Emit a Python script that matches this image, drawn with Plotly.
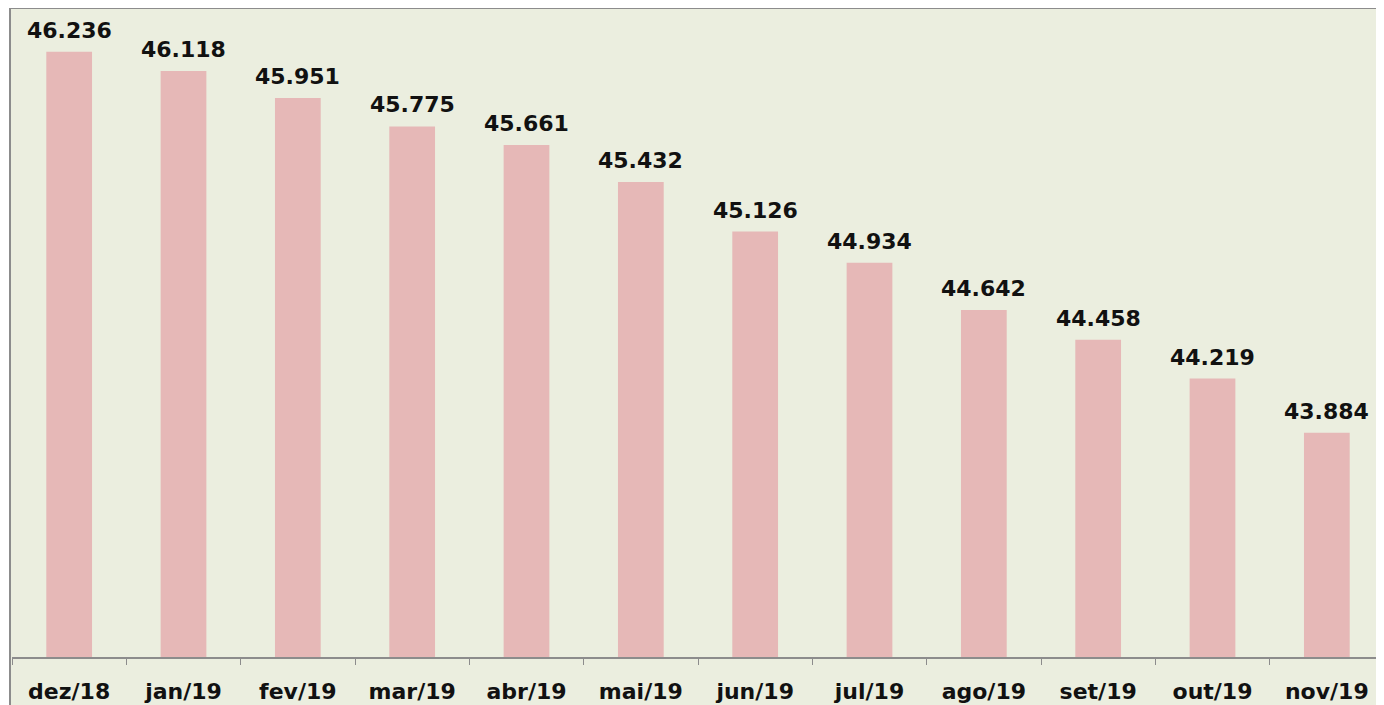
import plotly.graph_objects as go

categories = ["dez/18", "jan/19", "fev/19", "mar/19", "abr/19", "mai/19",
              "jun/19", "jul/19", "ago/19", "set/19", "out/19", "nov/19"]
values = [46236, 46118, 45951, 45775, 45661, 45432,
          45126, 44934, 44642, 44458, 44219, 43884]
labels = [f"{v:,}".replace(",", ".") for v in values]

# page has an 8px body margin; compensate inside the figure
OFF = 8
W, H = 1384 - OFF, 705 - OFF
L, R, T, B = 12 - OFF, 0, 9 - OFF, 48
pw = W - L - R
ph = H - T - B

FONT = dict(family="DejaVu Sans", size=22, color="#111111", weight="bold")

fig = go.Figure()
fig.add_trace(go.Bar(
    x=categories, y=values, width=0.4,
    marker=dict(color="#E6B8B7", line=dict(width=0)),
    hoverinfo="x+y",
))

for c, v, t in zip(categories, values, labels):
    fig.add_annotation(x=c, y=v, text=t, showarrow=False, xanchor="center",
                       yanchor="bottom", yshift=7, font=FONT)

fig.add_shape(type="rect", xref="paper", yref="paper",
              x0=(10 - OFF - L) / pw, x1=1.05, y0=-0.2, y1=1 + T / ph,
              fillcolor="#EBEEDF", line=dict(color="#8C8C8C", width=2), layer="below")

fig.update_layout(
    width=W, height=H,
    margin=dict(l=L, r=R, t=T, b=B, pad=0),
    paper_bgcolor="white", plot_bgcolor="#EBEEDF",
    showlegend=False,
    xaxis=dict(showline=True, linecolor="#8C8C8C", linewidth=1.5,
               ticks="outside", tickson="boundaries", ticklen=6, tickcolor="#8C8C8C",
               tickfont=FONT, ticklabelstandoff=14, showgrid=False),
    yaxis=dict(range=[42500, 46500], visible=False, showgrid=False),
)

fig.write_html("out.html")
